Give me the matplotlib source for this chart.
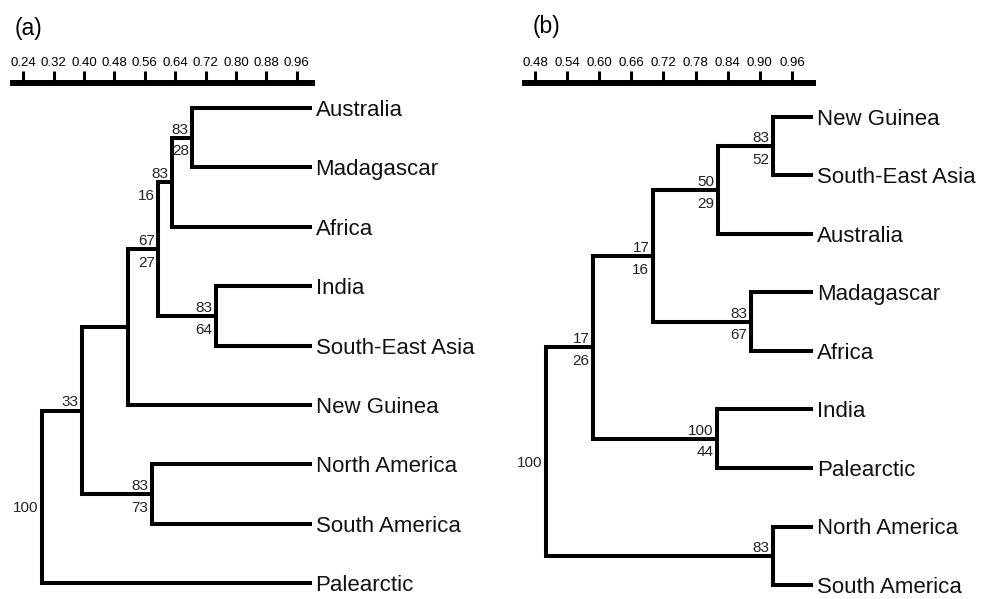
"""
Two UPGMA-style similarity dendrograms of biogeographic regions, (a) and (b).
"""
import matplotlib
matplotlib.use("Agg")
import matplotlib.pyplot as plt

plt.rcParams['font.family'] = ['Liberation Sans', 'DejaVu Sans']

# ---- panel (a) data
a_leaves = ["Australia", "Madagascar", "Africa", "India", "South-East Asia",
            "New Guinea", "North America", "South America", "Palearctic"]
# merges: node 9 onwards, children given as leaf / node indices
a_merge_left = [0, 9, 3, 10, 12, 6, 13, 15]
a_merge_right = [1, 2, 4, 11, 5, 7, 14, 8]
a_height = [0.685, 0.632, 0.748, 0.595, 0.516, 0.579, 0.395, 0.289]
a_boot_top = ["83", "83", "83", "67", "", "83", "33", "100"]
a_boot_bottom = ["28", "16", "64", "27", "", "73", "", ""]
a_ticks = [0.24, 0.32, 0.40, 0.48, 0.56, 0.64, 0.72, 0.80, 0.88, 0.96]

# ---- panel (b) data
b_leaves = ["New Guinea", "South-East Asia", "Australia", "Madagascar", "Africa",
            "India", "Palearctic", "North America", "South America"]
b_merge_left = [0, 9, 3, 10, 5, 12, 7, 14]
b_merge_right = [1, 2, 4, 11, 6, 13, 8, 15]
b_height = [0.925, 0.822, 0.883, 0.700, 0.820, 0.588, 0.925, 0.501]
b_boot_top = ["83", "50", "83", "17", "100", "17", "83", "100"]
b_boot_bottom = ["52", "29", "67", "16", "44", "26", "", ""]
b_ticks = [0.48, 0.54, 0.60, 0.66, 0.72, 0.78, 0.84, 0.90, 0.96]

W, H = 986, 599
fig = plt.figure(figsize=(W / 100, H / 100), dpi=100)


def px_axes(x0, x1, ytop, ybot):
    return fig.add_axes([x0 / W, 1 - ybot / H, (x1 - x0) / W, (ybot - ytop) / H])


def draw_panel(leaves, mleft, mright, heights, btop, bbot, ticks,
               xlo, xpx, leaf_top, leaf_step, bar_y, tag, tag_xy):
    n = len(leaves)
    # scale bar
    sax = px_axes(xpx[0], xpx[1], bar_y, bar_y + 6)
    sax.set_xlim(xlo, 1.0)
    sax.patch.set_visible(False)
    for s in ['left', 'right', 'bottom']:
        sax.spines[s].set_visible(False)
    sax.spines['top'].set_linewidth(4.3)
    sax.xaxis.set_ticks_position('top')
    sax.set_xticks(ticks)
    sax.set_xticklabels([f"{t:.2f}" for t in ticks])
    sax.tick_params(axis='x', direction='out', length=8.4, width=2.2,
                    labelsize=9.5, pad=1.5)
    sax.set_yticks([])

    # tree
    ax = px_axes(xpx[0], xpx[1], leaf_top - 0.2 * leaf_step,
                 leaf_top + (n - 1 + 0.2) * leaf_step)
    ax.set_xlim(xlo, 1.0)
    ax.set_ylim(n - 1 + 0.2, -0.2)
    ax.axis('off')
    px_per_unit = (xpx[1] - xpx[0]) / (1.0 - xlo)

    xs = [1.0] * n + list(heights)
    ys = list(range(n))
    parent = {}
    for k, (a, b) in enumerate(zip(mleft, mright)):
        ys.append((ys[a] + ys[b]) / 2)
        parent[a] = n + k
        parent[b] = n + k
        xk = xs[n + k]
        ax.plot([xs[a], xk, xk, xs[b]], [ys[a], ys[a], ys[b], ys[b]],
                color='black', lw=2.9, solid_joinstyle='miter',
                solid_capstyle='butt')

    for i, name in enumerate(leaves):
        ax.annotate(name, (1.0, i), xytext=(2.6, 0), textcoords='offset points',
                    ha='left', va='center_baseline', fontsize=16, color='#111111')

    root = len(xs) - 1
    for k in range(len(heights)):
        node = n + k
        xk, yk = xs[node], ys[node]
        if node == root:
            ax.annotate(btop[k], (xk, yk), xytext=(-2.5, -8),
                        textcoords='offset points', ha='right', va='center',
                        fontsize=11, color='#222222')
            continue
        p = parent[node]
        top_x, bot_x = xk, xk
        if (xk - xs[p]) * px_per_unit < 17:
            # short branch: the label on the parent's side goes left of it
            if yk < ys[p]:
                bot_x = xs[p]
            else:
                top_x = xs[p]
        if btop[k]:
            ax.annotate(btop[k], (top_x, yk), xytext=(-2.5, 3),
                        textcoords='offset points', ha='right', va='baseline',
                        fontsize=11, color='#222222')
        if bbot[k]:
            ax.annotate(bbot[k], (bot_x, yk), xytext=(-2.5, -4.8),
                        textcoords='offset points', ha='right', va='top',
                        fontsize=11, color='#222222')

    fig.text(tag_xy[0] / W, 1 - tag_xy[1] / H, tag, fontsize=16.5,
             ha='left', va='center')


draw_panel(a_leaves, a_merge_left, a_merge_right, a_height, a_boot_top,
           a_boot_bottom, a_ticks, 0.212, (12.7, 311.9), 108, 59.4, 82.7,
           "(a)", (15, 29))
draw_panel(b_leaves, b_merge_left, b_merge_right, b_height, b_boot_top,
           b_boot_bottom, b_ticks, 0.461, (524.8, 813.4), 117, 58.5, 83,
           "(b)", (533, 27))

plt.savefig("out.png", dpi=100)
